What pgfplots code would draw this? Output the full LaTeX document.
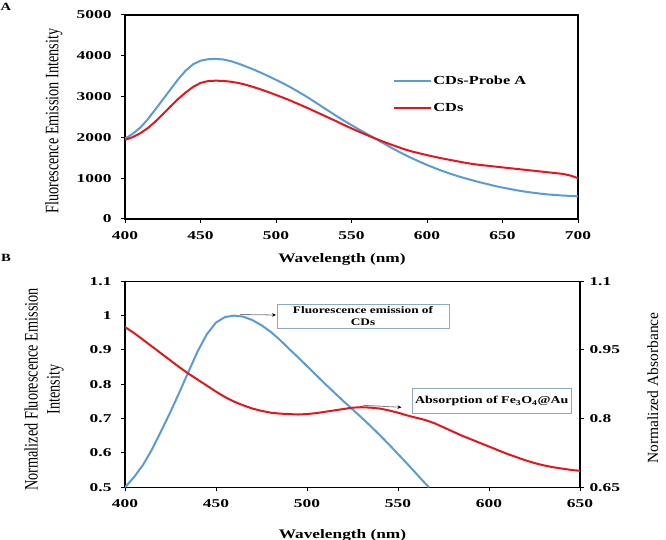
\documentclass[border=0pt]{standalone}
\usepackage{fontspec}
\setmainfont{Liberation Serif}
\newfontfamily\hfont{Liberation Serif}[FakeStretch=1.33]
\newfontfamily\tfont{Liberation Serif}[FakeStretch=1.45]
\newfontfamily\vfont{Liberation Serif}[FakeStretch=0.75]
\usepackage{pgfplots}
\pgfplotsset{compat=1.18}
\usetikzlibrary{arrows.meta}
\definecolor{cblue}{RGB}{91,155,213}
\definecolor{cred}{RGB}{228,22,28}
\definecolor{boxc}{RGB}{141,169,196}

\pgfplotstableread{
x y
400 1970
405 2085
410 2235
415 2440
420 2680
425 2925
430 3170
435 3415
440 3630
445 3790
450 3880
455 3915
460 3925
465 3910
470 3870
475 3810
480 3740
485 3665
490 3585
495 3500
500 3410
505 3320
510 3220
515 3115
520 3005
525 2885
530 2765
535 2645
540 2525
545 2410
550 2300
555 2195
560 2090
565 1985
570 1880
575 1775
580 1675
585 1580
590 1490
595 1405
600 1325
605 1250
610 1180
615 1115
620 1055
625 1000
630 950
635 900
640 855
645 810
650 770
655 735
660 700
665 670
670 645
675 622
680 602
685 588
690 575
695 565
700 555
}\probeA

\pgfplotstableread{
x y
400 1940
405 2005
410 2100
415 2225
420 2385
425 2565
430 2755
435 2935
440 3095
445 3235
450 3335
455 3380
460 3390
465 3385
470 3365
475 3335
480 3290
485 3235
490 3175
495 3110
500 3040
505 2970
510 2895
515 2815
520 2735
525 2650
530 2565
535 2480
540 2395
545 2305
550 2220
555 2140
560 2060
565 1985
570 1910
575 1840
580 1775
585 1710
590 1655
595 1610
600 1565
605 1525
610 1485
615 1450
620 1415
625 1380
630 1350
635 1325
640 1305
645 1285
650 1265
655 1245
660 1225
665 1205
670 1185
675 1165
680 1145
685 1125
690 1105
695 1065
700 1000
}\cds

\pgfplotstableread{
x y
400 0.500
405 0.530
410 0.566
415 0.612
420 0.665
425 0.720
430 0.778
435 0.838
440 0.897
445 0.946
450 0.980
455 0.996
460 1.000
465 0.997
470 0.987
475 0.972
480 0.953
485 0.930
490 0.904
495 0.879
500 0.853
505 0.827
510 0.801
515 0.776
520 0.751
525 0.727
530 0.703
535 0.678
540 0.652
545 0.625
550 0.597
555 0.569
560 0.540
565 0.511
567 0.500
}\emis

\pgfplotstableread{
x y
400 1.000
405 0.987
410 0.972
415 0.957
420 0.942
425 0.927
430 0.912
435 0.898
440 0.885
445 0.872
450 0.859
455 0.847
460 0.837
465 0.829
470 0.822
475 0.817
480 0.813
485 0.811
490 0.810
495 0.809
500 0.810
505 0.812
510 0.815
515 0.818
520 0.821
525 0.824
530 0.825
535 0.824
540 0.822
545 0.818
550 0.813
555 0.807
560 0.802
565 0.797
570 0.790
575 0.781
580 0.772
585 0.763
590 0.755
595 0.747
600 0.739
605 0.731
610 0.723
615 0.716
620 0.709
625 0.703
630 0.698
635 0.694
640 0.691
645 0.688
650 0.686
}\absorb

\pgfplotsset{
  common/.style={
    scale only axis,
    axis line style={line width=1.2bp, black},
    tick style={line width=1bp, black},
    tick align=outside,
    major tick length=4bp,
    /pgf/number format/assume math mode=true,
    /pgf/number format/1000 sep={},
    scaled ticks=false,
    ticklabel style={font=\tfont\bfseries\fontsize{12bp}{14bp}\selectfont},
    xticklabel style={yshift=-5bp},
    xlabel style={font=\hfont\bfseries\fontsize{13bp}{15bp}\selectfont},
  },
}

\begin{document}
\begin{tikzpicture}[x=1bp,y=-1bp]
\useasboundingbox (0,0) rectangle (666,540);
\coordinate (topNW) at (125,15);
\coordinate (botNW) at (125,281.3);

\begin{axis}[common,
  at={(topNW)}, anchor=north west,
  width=453bp, height=204bp,
  xmin=400, xmax=700, ymin=0, ymax=5000,
  xtick={400,450,...,700}, ytick={0,1000,2000,3000,4000,5000},
  xtick pos=bottom, ytick pos=left,
  yticklabel style={xshift=-6bp},
  xlabel={Wavelength (nm)},
  xlabel style={at={(axis description cs:0.479,-0.2)}, anchor=center},
  ylabel={Fluorescence Emission Intensity},
  ylabel style={font=\vfont\fontsize{19bp}{22bp}\selectfont, at={(axis description cs:-0.157,0.48)}, anchor=center},
  legend style={draw=none, fill=none, at={(axis description cs:0.592,0.61)}, anchor=west,
    font=\hfont\bfseries\fontsize{12.3bp}{14bp}\selectfont, row sep=15bp, inner sep=0pt,
    nodes={inner sep=1bp}},
  legend image code/.code={\draw[#1, line width=2bp] (0bp,0bp) -- (37bp,0bp);},
  legend cell align=left,
]
\addplot[cblue, line width=2bp] table[x=x,y=y] {\probeA};
\addlegendentry{CDs-Probe A}
\addplot[cred, line width=2bp] table[x=x,y=y] {\cds};
\addlegendentry{CDs}
\end{axis}

\begin{axis}[common,
  at={(botNW)}, anchor=north west,
  width=455bp, height=206bp,
  xmin=400, xmax=650, ymin=0.5, ymax=1.1,
  xtick={400,450,...,650}, ytick={0.5,0.6,0.7,0.8,0.9,1,1.1},
  xtick pos=bottom, ytick pos=left,
  yticklabel style={xshift=-6bp},
  xlabel={Wavelength (nm)},
  xlabel style={at={(axis description cs:0.478,-0.232)}, anchor=center},
  ylabel={Normalized Fluorescence Emission\\Intensity},
  ylabel style={font=\vfont\fontsize{19bp}{22bp}\selectfont, align=center, at={(axis description cs:-0.178,0.475)}, anchor=center},
]
\addplot[cblue, line width=2bp] table[x=x,y=y] {\emis};
\end{axis}

\begin{axis}[common,
  at={(botNW)}, anchor=north west,
  width=455bp, height=206bp,
  xmin=400, xmax=650, ymin=0.65, ymax=1.1,
  axis x line=none, axis y line*=right,
  ytick={0.65,0.8,0.95,1.1},
  yticklabel style={xshift=2bp},
  ylabel={Normalized Absorbance},
  ylabel style={font=\rmfamily\fontsize{15.5bp}{18bp}\selectfont, inner sep=0pt, at={(axis description cs:1.16,0.482)}, anchor=center},
]
\addplot[cred, line width=2bp] table[x=x,y=y] {\absorb};
\end{axis}

% annotations
\draw[boxc, line width=1bp, fill=white] (277,304) rectangle (449,328);
\node[font=\hfont\bfseries\fontsize{10bp}{12bp}\selectfont, align=center] at (363,316) {Fluorescence emission of\\CDs};
\draw[gray, line width=0.8bp, -{Stealth[length=4bp,width=3.5bp,black]}] (240,314.5) -- (276,315);
\draw[boxc, line width=1bp, fill=white] (412.7,388.7) rectangle (571,413);
\node[font=\hfont\bfseries\fontsize{10.5bp}{12bp}\selectfont] at (491.8,401) {Absorption of Fe\textsubscript{3}O\textsubscript{4}@Au};
\draw[gray, line width=0.8bp, -{Stealth[length=4bp,width=3.5bp,black]}] (363,405.3) -- (401.5,407.3);

\node[font=\hfont\bfseries\fontsize{11bp}{13bp}\selectfont] at (6,7) {A};
\node[font=\hfont\bfseries\fontsize{11bp}{13bp}\selectfont] at (6,258) {B};
\end{tikzpicture}
\end{document}
